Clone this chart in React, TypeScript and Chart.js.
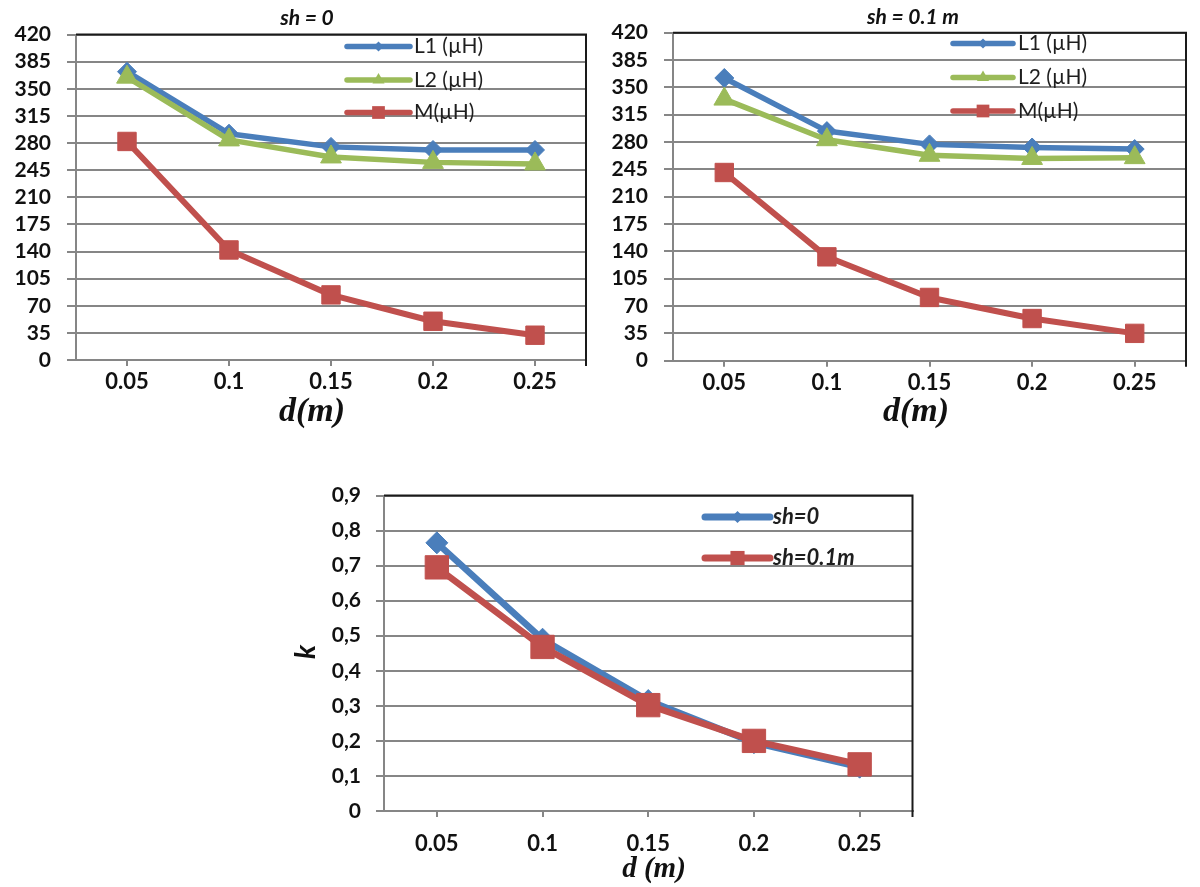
import React, { useEffect, useRef } from 'react';
import { Chart, registerables } from 'chart.js';

Chart.register(...registerables);

// ---------- data ----------
const dLabels = ['0.05', '0.1', '0.15', '0.2', '0.25'];

// sh = 0
const L1_sh0 = [372, 292, 275, 271, 271];
const L2_sh0 = [365, 284, 262, 255, 253];
const M_sh0 = [282, 142, 84, 50, 32];

// sh = 0.1 m
const L1_sh01 = [362, 294, 277, 273, 271];
const L2_sh01 = [335, 283, 263, 259, 260];
const M_sh01 = [241, 133, 81, 54, 35];

// coupling factor k
const k_sh0 = [0.765, 0.49, 0.315, 0.195, 0.125];
const k_sh01 = [0.695, 0.468, 0.302, 0.2, 0.133];

const seriesNamesL = ['L1 (µH)', 'L2 (µH)', 'M(µH)'];
const seriesNamesK = ['sh=0', 'sh=0.1m'];
const titleLeft = 'sh = 0';
const titleRight = 'sh = 0.1 m';
const xTitleTop = 'd(m)';
const xTitleBottom = 'd (m)';
const yTitleBottom = 'k';

// ---------- styles ----------
const BLUE = '#4A7EBB';
const GREEN = '#9BBB59';
const RED = '#C0504D';
const GRID = '#868686';
const FRAME = '#1a1a1a';
const TEXT = '#111111';
const SANS = 'Lato, "Liberation Sans", Arial, sans-serif';
const SERIF = '"Liberation Serif", "Times New Roman", serif';

type TextItem = { text: string; x: number; y: number; font: string; rot?: number };
type LegendItem = { label: string; color: string; style: string; r: number; y: number };
type Decor = {
  tick: number;
  texts: TextItem[];
  legend: { x1: number; x2: number; tx: number; font: string; lw: number; items: LegendItem[] };
};

function drawMarker(ctx: CanvasRenderingContext2D, style: string, x: number, y: number, r: number, color: string) {
  ctx.fillStyle = color;
  ctx.beginPath();
  if (style === 'rectRot') {
    ctx.moveTo(x - r, y);
    ctx.lineTo(x, y - r);
    ctx.lineTo(x + r, y);
    ctx.lineTo(x, y + r);
  } else if (style === 'triangle') {
    ctx.moveTo(x, y - r);
    ctx.lineTo(x + 0.866 * r, y + 0.5 * r);
    ctx.lineTo(x - 0.866 * r, y + 0.5 * r);
  } else {
    const s = r * Math.SQRT1_2;
    ctx.rect(x - s, y - s, 2 * s, 2 * s);
  }
  ctx.closePath();
  ctx.fill();
}

function makeDecor(d: Decor) {
  return {
    id: 'decor',
    beforeDatasetsDraw(chart: any) {
      const { ctx, chartArea: ca } = chart;
      ctx.save();
      ctx.strokeStyle = FRAME;
      ctx.lineWidth = 2;
      ctx.beginPath();
      ctx.moveTo(ca.left, ca.top);
      ctx.lineTo(ca.right, ca.top);
      ctx.lineTo(ca.right, ca.bottom + d.tick);
      ctx.stroke();
      ctx.restore();
    },
    afterDraw(chart: any) {
      const ctx: CanvasRenderingContext2D = chart.ctx;
      ctx.save();
      ctx.fillStyle = TEXT;
      ctx.textAlign = 'center';
      ctx.textBaseline = 'middle';
      for (const t of d.texts) {
        ctx.save();
        ctx.font = t.font;
        ctx.translate(t.x, t.y);
        if (t.rot) ctx.rotate(t.rot);
        ctx.fillText(t.text, 0, 0);
        ctx.restore();
      }
      const lg = d.legend;
      for (const it of lg.items) {
        ctx.strokeStyle = it.color;
        ctx.lineWidth = lg.lw;
        ctx.lineCap = 'round';
        ctx.beginPath();
        ctx.moveTo(lg.x1, it.y);
        ctx.lineTo(lg.x2, it.y);
        ctx.stroke();
        drawMarker(ctx, it.style, (lg.x1 + lg.x2) / 2, it.y, it.r, it.color);
        ctx.fillStyle = '#1e1e1e';
        ctx.font = lg.font;
        ctx.textAlign = 'left';
        ctx.fillText(it.label, lg.tx, it.y);
      }
      ctx.restore();
    },
  };
}

function ds(label: string, data: number[], color: string, style: string, r: number, lw: number, order: number) {
  return {
    label,
    data,
    borderColor: color,
    backgroundColor: color,
    borderWidth: lw,
    pointStyle: style,
    pointRadius: r,
    pointHoverRadius: r,
    pointBorderWidth: 1,
    pointBackgroundColor: color,
    pointBorderColor: color,
    tension: 0,
    borderCapStyle: 'round',
    borderJoinStyle: 'round',
    order,
  };
}

type Geo = {
  pad: { top: number; right: number; left: number; bottom: number };
  yWidth: number;
  xHeight: number;
  yTickLen: number;
  yTickPad: number;
  xTickPad: number;
  yFont: number;
  xFont: number;
};

function makeConfig(datasets: any[], yMin: number, yMax: number, step: number, fmt: (v: number) => string, g: Geo, decor: Decor) {
  return {
    type: 'line',
    data: { labels: dLabels, datasets },
    options: {
      responsive: false,
      animation: false,
      events: [],
      layout: { padding: g.pad },
      plugins: { legend: { display: false }, title: { display: false }, tooltip: { enabled: false } },
      scales: {
        x: {
          type: 'category',
          offset: true,
          grid: { drawOnChartArea: false, drawTicks: true, tickLength: 6, color: GRID, lineWidth: 2, offset: false },
          border: { color: GRID, width: 2 },
          ticks: { color: TEXT, font: { family: SANS, size: g.xFont, weight: 'bold' }, padding: g.xTickPad, maxRotation: 0, autoSkip: false },
          afterFit: (s: any) => { s.height = g.xHeight; },
        },
        y: {
          min: yMin,
          max: yMax,
          grid: { color: GRID, lineWidth: 2, drawTicks: true, tickLength: g.yTickLen },
          border: { color: GRID, width: 2 },
          ticks: {
            stepSize: step,
            autoSkip: false,
            color: TEXT,
            font: { family: SANS, size: g.yFont, weight: 'bold', lineHeight: 1 },
            padding: g.yTickPad,
            callback: (v: any) => fmt(Number(v)),
          },
          afterFit: (s: any) => { s.width = g.yWidth; },
        },
      },
    },
    plugins: [makeDecor(decor)],
  };
}

const fmtInt = (v: number) => String(Math.round(v));
const fmtComma = (v: number) => (Math.abs(v) < 1e-9 ? '0' : v.toFixed(1).replace('.', ','));

function buildLeft() {
  return makeConfig(
    [
      ds(seriesNamesL[0], L1_sh0, BLUE, 'rectRot', 9.5, 5.5, 3),
      ds(seriesNamesL[1], L2_sh0, GREEN, 'triangle', 12, 5.5, 2),
      ds(seriesNamesL[2], M_sh0, RED, 'rect', 13, 6, 1),
    ],
    0, 420, 35, fmtInt,
    { pad: { top: 34.5, right: 13, left: 0, bottom: 0 }, yWidth: 76, xHeight: 80, yTickLen: 9, yTickPad: 16, xTickPad: 3, yFont: 21, xFont: 22 },
    {
      tick: 6,
      texts: [
        { text: titleLeft, x: 307, y: 18, font: `italic bold 21px ${SANS}` },
        { text: xTitleTop, x: 312, y: 412, font: `italic bold 34px ${SERIF}` },
      ],
      legend: {
        x1: 347, x2: 410, tx: 414, font: `21px ${SANS}`, lw: 5.5,
        items: [
          { label: seriesNamesL[0], color: BLUE, style: 'rectRot', r: 5, y: 46.5 },
          { label: seriesNamesL[1], color: GREEN, style: 'triangle', r: 7, y: 80 },
          { label: seriesNamesL[2], color: RED, style: 'rect', r: 9, y: 112.5 },
        ],
      },
    },
  );
}

function buildRight() {
  return makeConfig(
    [
      ds(seriesNamesL[0], L1_sh01, BLUE, 'rectRot', 9.5, 5.5, 3),
      ds(seriesNamesL[1], L2_sh01, GREEN, 'triangle', 12, 5.5, 2),
      ds(seriesNamesL[2], M_sh01, RED, 'rect', 13, 6, 1),
    ],
    0, 420, 35, fmtInt,
    { pad: { top: 32.7, right: 12, left: 0, bottom: 0 }, yWidth: 73, xHeight: 79.3, yTickLen: 9, yTickPad: 16, xTickPad: 3, yFont: 21, xFont: 22 },
    {
      tick: 6,
      texts: [
        { text: titleRight, x: 313, y: 17, font: `italic bold 21px ${SANS}` },
        { text: xTitleTop, x: 316, y: 412, font: `italic bold 34px ${SERIF}` },
      ],
      legend: {
        x1: 353, x2: 413, tx: 418, font: `21px ${SANS}`, lw: 5.5,
        items: [
          { label: seriesNamesL[0], color: BLUE, style: 'rectRot', r: 5, y: 43.5 },
          { label: seriesNamesL[1], color: GREEN, style: 'triangle', r: 7, y: 77.5 },
          { label: seriesNamesL[2], color: RED, style: 'rect', r: 9, y: 111 },
        ],
      },
    },
  );
}

function buildBottom() {
  return makeConfig(
    [
      ds(seriesNamesK[0], k_sh0, BLUE, 'rectRot', 11, 6.5, 2),
      ds(seriesNamesK[1], k_sh01, RED, 'rect', 16.5, 6.5, 1),
    ],
    0, 0.9, 0.1, fmtComma,
    { pad: { top: 23, right: 5, left: 0, bottom: 0 }, yWidth: 104, xHeight: 76, yTickLen: 8, yTickPad: 15, xTickPad: 14, yFont: 21, xFont: 22 },
    {
      tick: 6,
      texts: [
        { text: xTitleBottom, x: 374, y: 400, font: `italic bold 29px ${SERIF}` },
        { text: yTitleBottom, x: 26, y: 182, font: `italic bold 28px ${SANS}`, rot: -Math.PI / 2 },
      ],
      legend: {
        x1: 425, x2: 490, tx: 493, font: `italic bold 22px ${SANS}`, lw: 7,
        items: [
          { label: seriesNamesK[0], color: BLUE, style: 'rectRot', r: 6, y: 47 },
          { label: seriesNamesK[1], color: RED, style: 'rect', r: 10, y: 88 },
        ],
      },
    },
  );
}

function ChartBox(props: { left: number; top: number; width: number; height: number; build: () => any }) {
  const ref = useRef<HTMLCanvasElement>(null);
  useEffect(() => {
    const chart = new Chart(ref.current as HTMLCanvasElement, props.build() as any);
    return () => chart.destroy();
  }, []);
  return (
    <canvas
      ref={ref}
      width={props.width}
      height={props.height}
      style={{ position: 'absolute', left: props.left, top: props.top, width: props.width, height: props.height }}
    />
  );
}

export default function App() {
  return (
    <div style={{ position: 'absolute', left: 0, top: 0, width: 1200, height: 887, background: '#ffffff', overflow: 'hidden' }}>
      <ChartBox left={0} top={0} width={600} height={440} build={buildLeft} />
      <ChartBox left={600} top={0} width={600} height={440} build={buildRight} />
      <ChartBox left={280} top={470} width={650} height={417} build={buildBottom} />
    </div>
  );
}
